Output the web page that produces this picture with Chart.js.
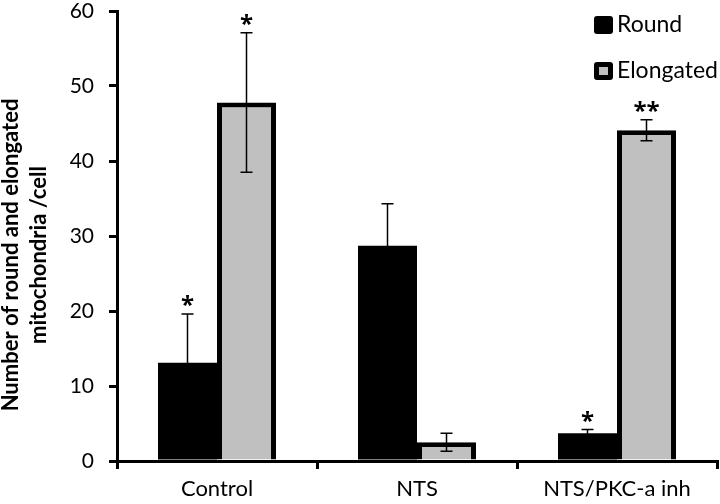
<!DOCTYPE html>
<html>
<head>
<meta charset="utf-8">
<script src="https://cdn.jsdelivr.net/npm/chart.js@4"></script>
<style>
  html, body { margin: 0; padding: 0; background: #fff; }
  #wrap { width: 720px; height: 504px; }
</style>
</head>
<body>
<div id="wrap"><canvas id="chart" width="720" height="504"></canvas></div>
<script>
// values
const categories = ['Control', 'NTS', 'NTS/PKC-a inh'];
const seriesNames = ['Round', 'Elongated'];
const roundValues = [13.1, 28.7, 3.7];
const roundErrors = [6.5, 5.6, 0.5];
const elongatedValues = [47.8, 2.5, 44.1];
const elongatedErrors = [9.3, 1.2, 1.4];
const roundMarks = ['*', '', '*'];
const elongatedMarks = ['*', '', '**'];
const yTicks = [0, 10, 20, 30, 40, 50, 60];
const yTitle = ['Number of round and elongated', 'mitochondria /cell'];

const FONT = "Lato, 'Open Sans', sans-serif";

// error bars + significance stars
const errorBars = {
    id: 'errorBars',
    afterDatasetsDraw(chart) {
        const ctx = chart.ctx;
        const y = chart.scales.y;
        chart.data.datasets.forEach((ds, di) => {
            const meta = chart.getDatasetMeta(di);
            meta.data.forEach((bar, i) => {
                const v = ds.data[i];
                const e = ds.errors[i];
                const top = y.getPixelForValue(v + e);
                const bottom = y.getPixelForValue(v - e);
                ctx.save();
                ctx.strokeStyle = '#000';
                ctx.lineWidth = 1.5;
                ctx.beginPath();
                ctx.moveTo(bar.x, top);
                ctx.lineTo(bar.x, bottom);
                ctx.moveTo(bar.x - 6, top);
                ctx.lineTo(bar.x + 6, top);
                ctx.moveTo(bar.x - 6, bottom);
                ctx.lineTo(bar.x + 6, bottom);
                ctx.stroke();
                const mark = ds.marks[i];
                if (mark) {
                    ctx.fillStyle = '#000';
                    ctx.font = "bold 24px 'Open Sans', sans-serif";
                    ctx.textAlign = 'center';
                    ctx.textBaseline = 'alphabetic';
                    ctx.fillText(mark, bar.x, top - 1);
                }
                ctx.restore();
            });
        });
    }
};

// legend drawn inside the plot, top right, and the rotated y title
const extras = {
    id: 'extras',
    afterDraw(chart) {
        const ctx = chart.ctx;
        const x0 = 594;
        const rows = [25, 71];
        chart.data.datasets.forEach((ds, di) => {
            const cy = rows[di];
            ctx.save();
            ctx.fillStyle = '#000';
            ctx.beginPath();
            ctx.roundRect(x0, cy - 9, 19, 18, 3);
            ctx.fill();
            if (di === 1) {
                ctx.fillStyle = ds.backgroundColor;
                ctx.fillRect(x0 + 5, cy - 4, 9, 8);
            }
            ctx.fillStyle = '#000';
            ctx.font = '23px ' + FONT;
            ctx.textAlign = 'left';
            ctx.textBaseline = 'middle';
            ctx.fillText(ds.label, x0 + 23, cy);
            ctx.restore();
        });

        const baselines = [18, 46];
        ctx.save();
        ctx.fillStyle = '#000';
        ctx.font = 'bold 22px ' + FONT;
        ctx.textAlign = 'center';
        ctx.textBaseline = 'alphabetic';
        yTitle.forEach((line, i) => {
            ctx.save();
            ctx.translate(baselines[i], 255);
            ctx.rotate(-Math.PI / 2);
            ctx.fillText(line, 0, 0);
            ctx.restore();
        });
        ctx.restore();
    }
};

new Chart(document.getElementById('chart'), {
    type: 'bar',
    data: {
        labels: categories,
        datasets: [
            {
                label: seriesNames[0],
                data: roundValues,
                errors: roundErrors,
                marks: roundMarks,
                backgroundColor: '#000000',
                borderColor: '#000000',
                borderWidth: 0
            },
            {
                label: seriesNames[1],
                data: elongatedValues,
                errors: elongatedErrors,
                marks: elongatedMarks,
                backgroundColor: '#c0c0c0',
                borderColor: '#000000',
                borderWidth: 5
            }
        ]
    },
    options: {
        responsive: false,
        animation: false,
        layout: { padding: { top: 0, right: 3, left: 0, bottom: 0 } },
        datasets: {
            bar: { categoryPercentage: 0.59, barPercentage: 1.0 }
        },
        plugins: {
            legend: { display: false },
            tooltip: { enabled: false }
        },
        scales: {
            x: {
                afterFit(scale) { scale.height = 43; },
                grid: {
                    offset: true,
                    drawOnChartArea: false,
                    drawTicks: true,
                    tickLength: 8,
                    color: '#000',
                    lineWidth: 3
                },
                border: { color: '#000', width: 3 },
                ticks: {
                    color: '#000',
                    font: { family: FONT, size: 22 },
                    padding: 7
                }
            },
            y: {
                min: 0,
                max: 60,
                afterFit(scale) {
                    scale.width = 117;
                    scale.paddingTop = 11;
                    scale.paddingBottom = 0;
                },
                afterBuildTicks(scale) {
                    scale.ticks = yTicks.map(v => ({ value: v }));
                },
                grid: {
                    drawOnChartArea: false,
                    drawTicks: true,
                    tickLength: 8,
                    color: '#000',
                    lineWidth: 3
                },
                border: { color: '#000', width: 3 },
                ticks: {
                    color: '#000',
                    font: { family: FONT, size: 21 },
                    padding: 15
                }
            }
        }
    },
    plugins: [errorBars, extras]
});
</script>
</body>
</html>
